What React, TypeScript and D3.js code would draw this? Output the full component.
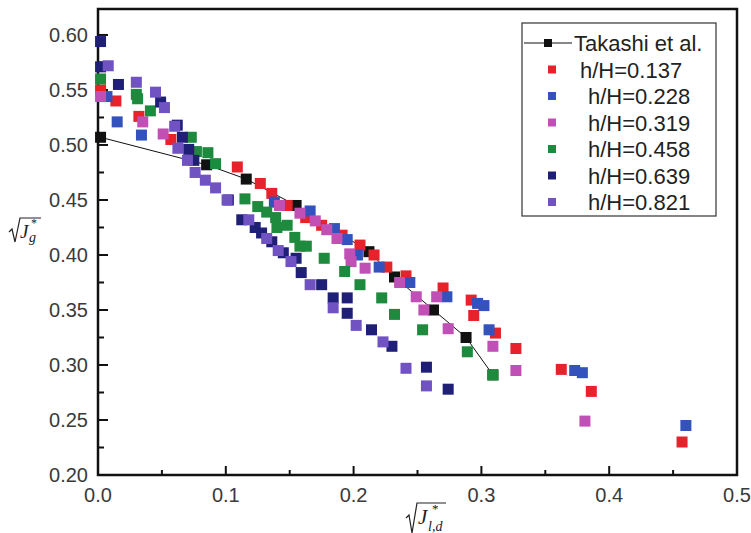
import React from 'react';
import * as d3 from 'd3';

// Takashi et al. reference curve
const takashiX = [0.002, 0.085, 0.116, 0.155, 0.212, 0.232, 0.2625, 0.288, 0.309];
const takashiY = [0.507, 0.482, 0.469, 0.445, 0.403, 0.380, 0.350, 0.325, 0.291];

// h/H = 0.137
const redX = [0.002, 0.014, 0.032, 0.057, 0.109, 0.127, 0.136, 0.148, 0.1625, 0.175, 0.191, 0.205, 0.216, 0.226, 0.241, 0.270, 0.292, 0.294, 0.311, 0.327, 0.3625, 0.386, 0.457];
const redY = [0.550, 0.540, 0.526, 0.505, 0.480, 0.465, 0.456, 0.445, 0.434, 0.427, 0.418, 0.409, 0.400, 0.389, 0.381, 0.370, 0.359, 0.345, 0.329, 0.315, 0.296, 0.276, 0.230];

// h/H = 0.228
const blueX = [0.007, 0.015, 0.034, 0.138, 0.166, 0.185, 0.195, 0.203, 0.220, 0.244, 0.273, 0.297, 0.302, 0.306, 0.373, 0.379, 0.460];
const blueY = [0.544, 0.521, 0.509, 0.448, 0.440, 0.424, 0.414, 0.400, 0.389, 0.375, 0.362, 0.356, 0.354, 0.332, 0.295, 0.293, 0.245];

// h/H = 0.319
const pinkX = [0.002, 0.035, 0.051, 0.142, 0.158, 0.170, 0.179, 0.187, 0.197, 0.198, 0.209, 0.236, 0.249, 0.255, 0.265, 0.274, 0.309, 0.327, 0.381];
const pinkY = [0.544, 0.521, 0.510, 0.445, 0.438, 0.431, 0.423, 0.415, 0.401, 0.394, 0.388, 0.375, 0.362, 0.350, 0.362, 0.333, 0.317, 0.295, 0.249];

// h/H = 0.458
const greenX = [0.002, 0.030, 0.031, 0.041, 0.073, 0.077, 0.086, 0.092, 0.115, 0.125, 0.132, 0.139, 0.140, 0.148, 0.154, 0.158, 0.163, 0.177, 0.193, 0.205, 0.222, 0.232, 0.254, 0.289, 0.309];
const greenY = [0.560, 0.546, 0.542, 0.531, 0.507, 0.494, 0.493, 0.483, 0.451, 0.444, 0.439, 0.434, 0.425, 0.427, 0.416, 0.408, 0.408, 0.397, 0.385, 0.373, 0.361, 0.346, 0.332, 0.312, 0.291];

// h/H = 0.639
const navyX = [0.002, 0.002, 0.016, 0.049, 0.062, 0.066, 0.071, 0.075, 0.102, 0.1125, 0.123, 0.128, 0.136, 0.145, 0.155, 0.159, 0.175, 0.184, 0.195, 0.195, 0.214, 0.230, 0.257, 0.274];
const navyY = [0.594, 0.571, 0.555, 0.539, 0.518, 0.507, 0.496, 0.486, 0.450, 0.432, 0.425, 0.420, 0.412, 0.402, 0.397, 0.384, 0.373, 0.361, 0.361, 0.347, 0.332, 0.317, 0.298, 0.278];

// h/H = 0.821
const purpleX = [0.008, 0.030, 0.045, 0.052, 0.060, 0.0625, 0.070, 0.076, 0.084, 0.092, 0.101, 0.118, 0.132, 0.141, 0.151, 0.166, 0.184, 0.202, 0.223, 0.241, 0.257];
const purpleY = [0.572, 0.557, 0.548, 0.534, 0.517, 0.497, 0.486, 0.475, 0.468, 0.461, 0.450, 0.432, 0.415, 0.404, 0.394, 0.373, 0.352, 0.336, 0.321, 0.297, 0.281];

const seriesNames = ['h/H=0.137', 'h/H=0.228', 'h/H=0.319', 'h/H=0.458', 'h/H=0.639', 'h/H=0.821'];
const seriesColors = ['#e8222b', '#3352bd', '#c04fb6', '#1d8a3e', '#1f1f78', '#7052c2'];
const seriesXs = [redX, blueX, pinkX, greenX, navyX, purpleX];
const seriesYs = [redY, blueY, pinkY, greenY, navyY, purpleY];

const xTicks = [0.0, 0.1, 0.2, 0.3, 0.4, 0.5];
const yTicks = [0.20, 0.25, 0.30, 0.35, 0.40, 0.45, 0.50, 0.55, 0.60];

const W = 751;
const H = 533;
const left = 98;
const right = 737;
const top = 9;
const bottom = 475;

const App = () => {
  const x = d3.scaleLinear().domain([0, 0.5]).range([left, right]);
  const y = d3.scaleLinear().domain([0.2, 0.6236]).range([bottom, top]);
  const ms = 11;
  const font = '"Liberation Sans", Arial, sans-serif';

  const xMinor = d3.range(0.05, 0.5, 0.1);
  const yMinor = d3.range(0.225, 0.6, 0.05);

  const takashiLine = d3.line<number>()
    .x((d, i) => x(takashiX[i]))
    .y(d => y(d));

  const legendRows = [43, 69.5, 96, 122.5, 149, 175.5, 202];

  return (
    <svg width={W} height={H} style={{ position: 'absolute', left: 0, top: 0, background: '#fff' }}>
      {/* frame */}
      <rect x={left} y={top} width={right - left} height={bottom - top} fill="none" stroke="#111" strokeWidth={2.5} />

      {/* ticks */}
      {xTicks.map(t => (
        <g key={'xt' + t}>
          <line x1={x(t)} x2={x(t)} y1={bottom} y2={bottom - 9} stroke="#111" strokeWidth={2} />
          <text x={x(t)} y={502} textAnchor="middle" fontFamily={font} fontSize={20} fill="#3a3a3a">{t.toFixed(1)}</text>
        </g>
      ))}
      {xMinor.map(t => (
        <line key={'xm' + t} x1={x(t)} x2={x(t)} y1={bottom} y2={bottom - 5} stroke="#111" strokeWidth={2} />
      ))}
      {yTicks.map(t => (
        <g key={'yt' + t}>
          <line x1={left} x2={left + 10} y1={y(t)} y2={y(t)} stroke="#111" strokeWidth={2} />
          <text x={88} y={y(t) + 7} textAnchor="end" fontFamily={font} fontSize={20} fill="#3a3a3a">{t.toFixed(2)}</text>
        </g>
      ))}
      {yMinor.map(t => (
        <line key={'ym' + t} x1={left} x2={left + 6} y1={y(t)} y2={y(t)} stroke="#111" strokeWidth={2} />
      ))}

      {/* Takashi et al. */}
      <path d={takashiLine(takashiY) || ''} fill="none" stroke="#111" strokeWidth={1} />
      {takashiY.map((v, i) => (
        <rect key={'tk' + i} x={x(takashiX[i]) - ms / 2} y={y(v) - ms / 2} width={ms} height={ms} fill="#111" />
      ))}

      {/* data series */}
      {seriesYs.map((ys, s) => (
        <g key={'s' + s}>
          {ys.map((v, i) => (
            <rect key={i} x={x(seriesXs[s][i]) - ms / 2} y={y(v) - ms / 2} width={ms} height={ms} fill={seriesColors[s]} />
          ))}
        </g>
      ))}

      {/* legend */}
      <rect x={522} y={23} width={194} height={193} fill="#fff" stroke="#333" strokeWidth={1.2} />
      <line x1={524} x2={572} y1={legendRows[0]} y2={legendRows[0]} stroke="#111" strokeWidth={1.2} />
      <rect x={544} y={legendRows[0] - 4} width={8} height={8} fill="#111" />
      <text x={574} y={legendRows[0] + 8} fontFamily={font} fontSize={22} fill="#222">Takashi et al.</text>
      {seriesNames.map((n, i) => (
        <g key={'lg' + i}>
          <rect x={548} y={legendRows[i + 1] - 4} width={8} height={8} fill={seriesColors[i]} />
          <text x={i === 0 ? 580 : 588} y={legendRows[i + 1] + 8} fontFamily={font} fontSize={22} fill="#222">{n}</text>
        </g>
      ))}

      {/* y axis label: sqrt(J*_g) */}
      <path d="M9,232 L12,229 L15,242 L20,218 L41,218" fill="none" stroke="#222" strokeWidth={1.2} />
      <text x={20} y={238} fontFamily='"Liberation Serif", serif' fontStyle="italic" fontSize={19} fill="#222">J</text>
      <text x={31} y={227} fontFamily='"Liberation Serif", serif' fontSize={12} fill="#222">*</text>
      <text x={29} y={242} fontFamily='"Liberation Serif", serif' fontStyle="italic" fontSize={14} fill="#222">g</text>

      {/* x axis label: sqrt(J*_{l,d}) */}
      <path d="M406,518 L409,515 L412,533 L417,503 L446,503" fill="none" stroke="#222" strokeWidth={1.2} />
      <text x={418} y={524} fontFamily='"Liberation Serif", serif' fontStyle="italic" fontSize={21} fill="#222">J</text>
      <text x={432} y={513} fontFamily='"Liberation Serif", serif' fontSize={13} fill="#222">*</text>
      <text x={428} y={531} fontFamily='"Liberation Serif", serif' fontStyle="italic" fontSize={14} fill="#222">l,d</text>
    </svg>
  );
};

export default App;
